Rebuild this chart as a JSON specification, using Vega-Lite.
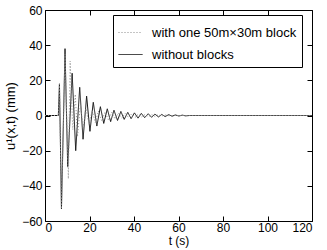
{
  "$schema": "https://vega.github.io/schema/vega-lite/v6.json",
  "width": 267,
  "height": 211,
  "autosize": "none",
  "padding": {"left": 45, "top": 10, "right": 15, "bottom": 29},
  "background": "white",
  "config": {
    "font": "Liberation Sans",
    "view": {"stroke": "black", "strokeWidth": 1},
    "axis": {"grid": false, "domain": false, "tickColor": "black", "labelColor": "black", "titleColor": "black", "labelFontSize": 12, "titleFontSize": 13, "titleFontWeight": "normal", "tickSize": -5, "labelPadding": 8}
  },
  "data": {"values": [
    {"s": "without blocks", "t": 0, "u": 0},
    {"s": "without blocks", "t": 6.0, "u": 0},
    {"s": "without blocks", "t": 6.5, "u": 18},
    {"s": "without blocks", "t": 7.4, "u": -53},
    {"s": "without blocks", "t": 9.0, "u": 38},
    {"s": "without blocks", "t": 10.2, "u": -29},
    {"s": "without blocks", "t": 12.2, "u": 24},
    {"s": "without blocks", "t": 13.8, "u": -20},
    {"s": "without blocks", "t": 15.6, "u": 16},
    {"s": "without blocks", "t": 17.1, "u": -13.5},
    {"s": "without blocks", "t": 18.7, "u": 11},
    {"s": "without blocks", "t": 20.2, "u": -9},
    {"s": "without blocks", "t": 21.7, "u": 7.5},
    {"s": "without blocks", "t": 23.3, "u": -6},
    {"s": "without blocks", "t": 24.9, "u": 5},
    {"s": "without blocks", "t": 26.4, "u": -4.5},
    {"s": "without blocks", "t": 28.0, "u": 3.8},
    {"s": "without blocks", "t": 29.5, "u": -3.5},
    {"s": "without blocks", "t": 31.0, "u": 3},
    {"s": "without blocks", "t": 32.6, "u": -2.8},
    {"s": "without blocks", "t": 34.1, "u": 2.3},
    {"s": "without blocks", "t": 35.6, "u": -2.2},
    {"s": "without blocks", "t": 37.2, "u": 1.8},
    {"s": "without blocks", "t": 38.7, "u": -1.8},
    {"s": "without blocks", "t": 40.2, "u": 1.5},
    {"s": "without blocks", "t": 41.8, "u": -1.5},
    {"s": "without blocks", "t": 43.3, "u": 1.2},
    {"s": "without blocks", "t": 44.8, "u": -1.2},
    {"s": "without blocks", "t": 46.4, "u": 1},
    {"s": "without blocks", "t": 47.9, "u": -1},
    {"s": "without blocks", "t": 49.4, "u": 0.8},
    {"s": "without blocks", "t": 51.0, "u": -0.8},
    {"s": "without blocks", "t": 52.5, "u": 0.6},
    {"s": "without blocks", "t": 54.0, "u": -0.6},
    {"s": "without blocks", "t": 55.6, "u": 0.5},
    {"s": "without blocks", "t": 57.1, "u": -0.4},
    {"s": "without blocks", "t": 58.6, "u": 0.3},
    {"s": "without blocks", "t": 60.2, "u": -0.3},
    {"s": "without blocks", "t": 61.7, "u": 0.2},
    {"s": "without blocks", "t": 63.2, "u": -0.2},
    {"s": "without blocks", "t": 65.0, "u": 0},
    {"s": "without blocks", "t": 120, "u": 0},
    {"s": "with one 50m×30m block", "t": 0, "u": 0},
    {"s": "with one 50m×30m block", "t": 6.0, "u": 0},
    {"s": "with one 50m×30m block", "t": 6.5, "u": 18},
    {"s": "with one 50m×30m block", "t": 7.4, "u": -53},
    {"s": "with one 50m×30m block", "t": 9.0, "u": 35},
    {"s": "with one 50m×30m block", "t": 10.5, "u": -36},
    {"s": "with one 50m×30m block", "t": 11.3, "u": 31},
    {"s": "with one 50m×30m block", "t": 12.5, "u": -8},
    {"s": "with one 50m×30m block", "t": 13.6, "u": 12},
    {"s": "with one 50m×30m block", "t": 14.6, "u": -12},
    {"s": "with one 50m×30m block", "t": 15.9, "u": 6},
    {"s": "with one 50m×30m block", "t": 17.2, "u": -7},
    {"s": "with one 50m×30m block", "t": 18.4, "u": 4},
    {"s": "with one 50m×30m block", "t": 19.8, "u": -5},
    {"s": "with one 50m×30m block", "t": 21.2, "u": 3},
    {"s": "with one 50m×30m block", "t": 22.6, "u": -4},
    {"s": "with one 50m×30m block", "t": 24.0, "u": 2.5},
    {"s": "with one 50m×30m block", "t": 25.5, "u": -3},
    {"s": "with one 50m×30m block", "t": 27.0, "u": 2},
    {"s": "with one 50m×30m block", "t": 28.5, "u": -2.5},
    {"s": "with one 50m×30m block", "t": 30.0, "u": 1.8},
    {"s": "with one 50m×30m block", "t": 31.5, "u": -2},
    {"s": "with one 50m×30m block", "t": 33.0, "u": 1.5},
    {"s": "with one 50m×30m block", "t": 34.5, "u": -1.5},
    {"s": "with one 50m×30m block", "t": 36.0, "u": 1.2},
    {"s": "with one 50m×30m block", "t": 37.5, "u": -1.2},
    {"s": "with one 50m×30m block", "t": 39.0, "u": 1},
    {"s": "with one 50m×30m block", "t": 40.5, "u": -1},
    {"s": "with one 50m×30m block", "t": 42.0, "u": 0.8},
    {"s": "with one 50m×30m block", "t": 43.5, "u": -0.8},
    {"s": "with one 50m×30m block", "t": 45.0, "u": 0.6},
    {"s": "with one 50m×30m block", "t": 46.5, "u": -0.6},
    {"s": "with one 50m×30m block", "t": 48.0, "u": 0.5},
    {"s": "with one 50m×30m block", "t": 49.5, "u": -0.5},
    {"s": "with one 50m×30m block", "t": 51.0, "u": 0.4},
    {"s": "with one 50m×30m block", "t": 52.5, "u": -0.4},
    {"s": "with one 50m×30m block", "t": 54.0, "u": 0.3},
    {"s": "with one 50m×30m block", "t": 56.0, "u": -0.2},
    {"s": "with one 50m×30m block", "t": 58.0, "u": 0.1},
    {"s": "with one 50m×30m block", "t": 60.0, "u": 0},
    {"s": "with one 50m×30m block", "t": 120, "u": 0}
  ]},
  "layer": [
    {
      "mark": {"type": "line", "strokeWidth": 1, "clip": true},
      "encoding": {
        "x": {"field": "t", "type": "quantitative", "scale": {"domain": [0, 120], "nice": false}, "axis": {"values": [0, 20, 40, 60, 80, 100, 120], "title": "t (s)", "titlePadding": 2, "labelPadding": 6, "titleFontSize": 12}},
        "y": {"field": "u", "type": "quantitative", "scale": {"domain": [-60, 60], "nice": false}, "axis": {"values": [-60, -40, -20, 0, 20, 40, 60], "title": "u¹(x,t) (mm)", "titlePadding": 4}},
        "color": {"field": "s", "type": "nominal", "scale": {"domain": ["with one 50m×30m block", "without blocks"], "range": ["#8a8a8a", "#111111"]},
          "legend": {"title": null, "orient": "none", "legendX": 68, "legendY": 5, "fillColor": "white", "strokeColor": "black", "padding": 5, "symbolType": "stroke", "symbolSize": 576, "symbolStrokeWidth": 1, "labelFontSize": 13, "labelColor": "black", "rowPadding": 2, "labelOffset": 9, "labelLimit": 300}},
        "strokeDash": {"field": "s", "type": "nominal", "scale": {"domain": ["with one 50m×30m block", "without blocks"], "range": [[1, 2], [1, 0]]}, "legend": null},
        "order": {"field": "t", "type": "quantitative"}
      }
    },
    {
      "mark": {"type": "line", "opacity": 0},
      "encoding": {
        "x": {"field": "t", "type": "quantitative", "axis": {"orient": "top", "labels": false, "title": null, "values": [0, 20, 40, 60, 80, 100, 120]}},
        "y": {"field": "u", "type": "quantitative", "axis": {"orient": "right", "labels": false, "title": null, "values": [-60, -40, -20, 0, 20, 40, 60]}}
      }
    }
  ],
  "resolve": {"axis": {"x": "independent", "y": "independent"}}
}
